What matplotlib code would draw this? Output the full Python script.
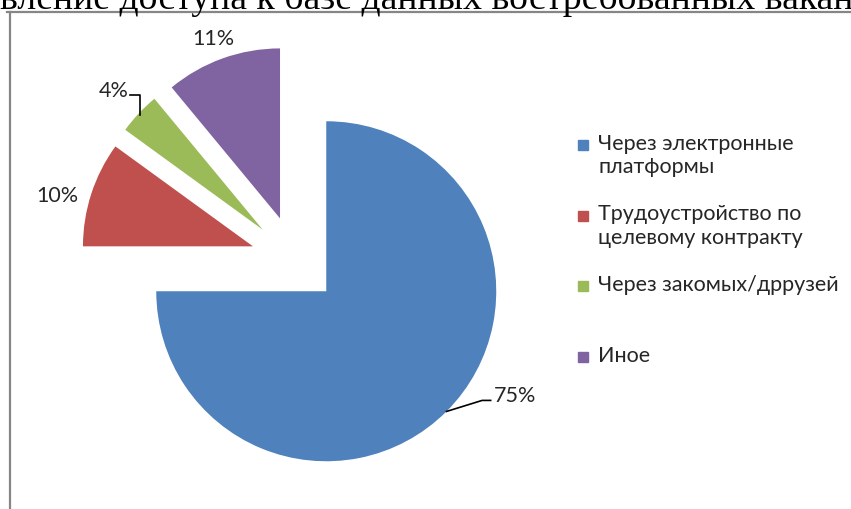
import matplotlib
matplotlib.use("Agg")
import matplotlib.pyplot as plt
import numpy as np
from matplotlib.font_manager import FontProperties
from matplotlib.lines import Line2D
from matplotlib.patches import Rectangle
from matplotlib.textpath import TextPath

# data
categories = ["Через электронные\nплатформы",
              "Трудоустройство по\nцелевому контракту",
              "Через закомых/дррузей",
              "Иное"]
shares = [75, 10, 4, 11]
colors = ["#4F81BD", "#C0504D", "#9BBB59", "#8064A2"]
title = "Предоставление доступа к базе данных востребованных вакансий"

W, H, DPI = 851, 510, 100
R_PX = 170.0          # pie radius in pixels
CX, CY = 295, 261     # pie centre in pixels (from top-left)
TXT = "#262626"
FONT = "Lato"

fig = plt.figure(figsize=(W / DPI, H / DPI), dpi=DPI)
ax = fig.add_axes([0, 0, 1, 1])
ax.axis("off")

explode = [0.26] * len(shares)
wedges, _ = ax.pie(shares, colors=colors, explode=explode, startangle=90,
                   counterclock=False, radius=1.0,
                   wedgeprops=dict(linewidth=0))
# pie() resets the limits, so set them afterwards
ax.set_xlim(-CX / R_PX, (W - CX) / R_PX)
ax.set_ylim((CY - H) / R_PX, CY / R_PX)
ax.set_aspect("equal")


def mid(w):
    a = np.deg2rad((w.theta1 + w.theta2) / 2)
    return np.cos(a), np.sin(a)


# percentage labels, Excel-style
lab_kw = dict(fontsize=15.5, family=FONT, color=TXT)
for i, (w, s) in enumerate(zip(wedges, shares)):
    ux, uy = mid(w)
    if i == 0:      # 75% with leader line
        p0 = np.array([ux, uy]) * 1.26
        p1 = p0 + np.array([0.21, 0.065])
        p2 = p1 + np.array([0.05, 0.0])
        ax.plot([p0[0], p1[0], p2[0]], [p0[1], p1[1], p2[1]], color="black", lw=1.2)
        ax.text(p2[0] + 0.02, p2[1] + 0.03, f"{s}%", ha="left", va="center", **lab_kw)
    elif i == 2:    # 4% with elbow leader
        p0 = np.array([ux, uy]) * 1.25
        p1 = p0 + np.array([0.0, 0.115])
        p2 = p1 + np.array([-0.06, 0.0])
        ax.plot([p0[0], p1[0], p2[0]], [p0[1], p1[1], p2[1]], color="black", lw=1.2)
        ax.text(p2[0] - 0.01, p2[1] + 0.03, f"{s}%", ha="right", va="center", **lab_kw)
    elif i == 1:
        ax.text(ux * 1.47, uy * 1.47 - 0.07, f"{s}%", ha="center", va="center", **lab_kw)
    else:
        ax.text(ux * 1.42, uy * 1.42 - 0.03, f"{s}%", ha="center", va="center", **lab_kw)

# legend (manual, evenly spaced two-line slots like the original)
leg_x, leg_y0, step = 583, 146, 70.5
for i, (lab, c) in enumerate(zip(categories, colors)):
    y = leg_y0 + i * step
    fig.add_artist(Rectangle(((leg_x - 5) / W, 1 - (y + 5) / H), 10 / W, 10 / H,
                             transform=fig.transFigure, color=c, zorder=5))
    fig.text((leg_x + 15) / W, 1 - (y - 12) / H, lab, ha="left", va="top",
             fontsize=15.5, family=FONT, color=TXT, linespacing=1.2)

# chart frame (only top and left edges are in view)
fig.add_artist(Line2D([7 / W, 1], [1 - 13 / H] * 2, transform=fig.transFigure,
                      color="#868686", lw=1.6))
fig.add_artist(Line2D([10 / W] * 2, [0, 1 - 13 / H], transform=fig.transFigure,
                      color="#868686", lw=1.6))

# document caption above the chart, cut off by the crop;
# sized so "доступа ... востребованных " spans ~645 px as in the source
prop = FontProperties(family="Liberation Serif")


def tw(s, size):
    return TextPath((0, 0), s, size=size, prop=prop).get_extents().width * DPI / 72


span = tw("доступа к базе данных востребованных в", 10) - tw("в", 10)
tfs = 10 * 645 / span
start = tw("Предоставление д", tfs) - tw("д", tfs)
fig.text((118 - start) / W, 1 - 9 / H, title, ha="left", va="baseline",
         fontsize=tfs, family="Liberation Serif", color="black")

fig.savefig("out.png", dpi=DPI)
